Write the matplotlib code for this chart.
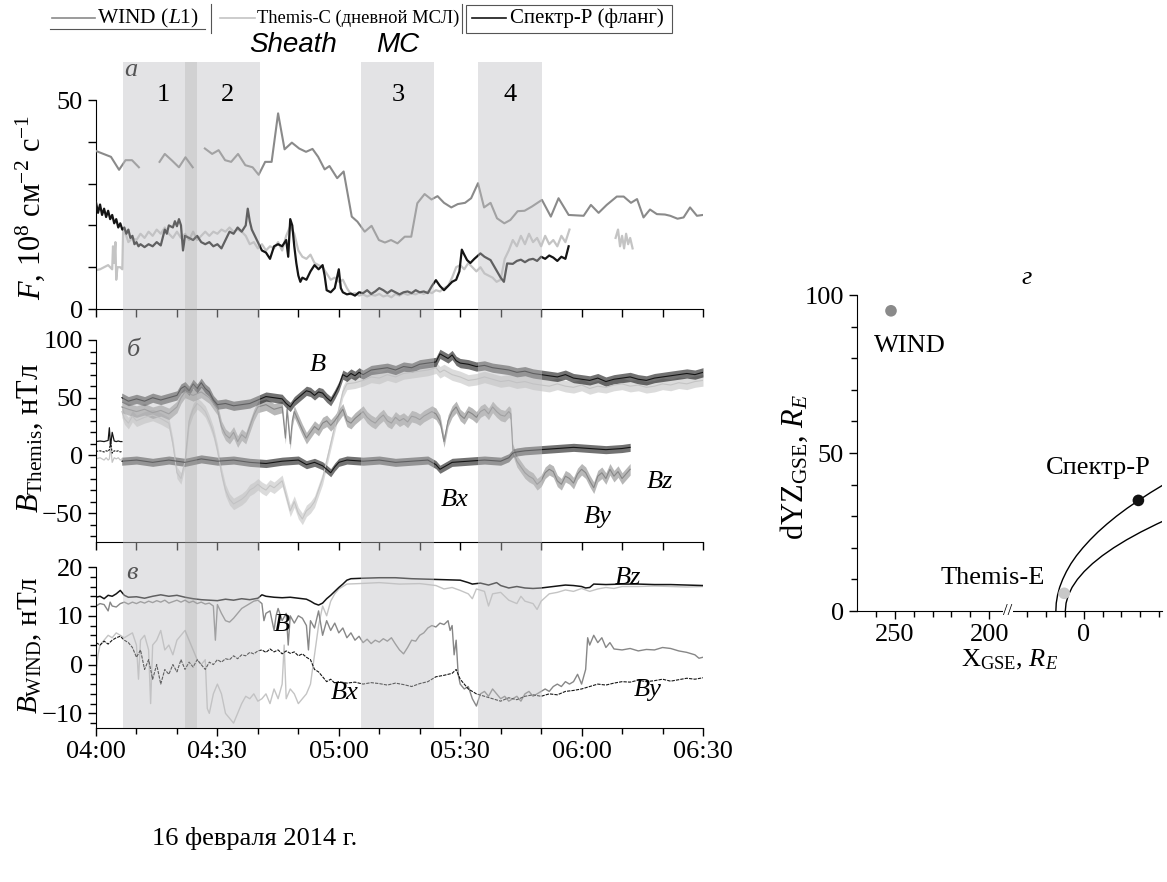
import numpy as np
import matplotlib
matplotlib.use('Agg')
import matplotlib.pyplot as plt
from matplotlib.lines import Line2D
from matplotlib.patches import Rectangle
from matplotlib.ticker import FixedLocator, MultipleLocator, NullFormatter

plt.rcParams['font.family'] = ['Liberation Serif', 'DejaVu Serif']
plt.rcParams['mathtext.fontset'] = 'custom'
plt.rcParams['mathtext.rm'] = 'Liberation Serif'
plt.rcParams['mathtext.it'] = 'Liberation Serif:italic'
plt.rcParams['mathtext.bf'] = 'Liberation Serif:bold'
plt.rcParams['axes.unicode_minus'] = True

nan = np.nan

# ---------------- time axis (minutes after 04:00) ----------------
time_ticks = [0, 30, 60, 90, 120, 150]
time_labels = ['04:00', '04:30', '05:00', '05:30', '06:00', '06:30']
bands = [(6.7, 40.5), (65.5, 83.6), (94.5, 110.2)]
strip = (22.0, 25.0)
band_names = ['1', '2', '3', '4']
band_name_t = [16.6, 32.6, 74.7, 102.3]

# ---------------- panel a: flux F ----------------
wind_t = [0, 3.7, 5.7, 7.3, 8.9, 10.6, 12.0, 15.7, 17.0, 18.8,
          20.5, 22.1, 23.9, 25.0, 26.9, 28.7, 30.3, 31.9, 33.4, 35.1,
          36.9, 38.7, 40.2, 41.8, 43.4, 45.0, 46.6, 48.4, 50.2, 51.9,
          53.5, 54.9, 56.5, 57.7, 59.6, 61.2, 63.2, 64.6, 66.4, 68.1,
          69.9, 71.4, 72.9, 74.5, 76.3, 77.9, 79.4, 81.2, 82.9, 84.4,
          86.0, 87.8, 89.4, 91.2, 92.7, 94.4, 95.9, 97.5, 99.1, 100.9,
          102.4, 104.2, 105.9, 107.7, 110.2, 112.4, 114.3, 116.8, 120.5, 122.3,
          124.2, 126.2, 128.7, 130.4, 132.2, 133.7, 135.3, 136.9, 138.6, 140.6,
          141.9, 143.7, 145.2, 146.8, 148.5, 150.0]
wind_f = [37.8, 36.4, 33.3, 35.6, 35.6, 33.9, nan, 35.2, 37.1, 35.5,
          33.9, 36.3, 33.9, nan, 38.4, 37.1, 38.0, 35.6, 35.2, 37.1,
          34.4, 33.9, 32.1, 35.2, 35.2, 46.8, 38.2, 39.8, 38.4, 37.6,
          38.3, 36.4, 33.4, 34.2, 31.3, 32.9, 22.1, 20.9, 18.5, 19.9,
          16.5, 15.9, 16.5, 15.7, 17.3, 17.3, 25.3, 27.5, 26.2, 27.0,
          25.4, 24.3, 25.1, 25.4, 26.5, 30.1, 24.3, 25.4, 21.7, 20.5,
          21.3, 23.4, 23.5, 24.5, 26.1, 22.1, 26.5, 22.5, 22.3, 24.9,
          23.0, 24.9, 26.9, 26.9, 25.4, 26.3, 21.9, 23.8, 22.7, 22.6,
          22.3, 21.6, 21.9, 24.3, 22.3, 22.5]

spr_t = [0, 0.5, 1, 1.5, 2, 2.5, 3, 3.5, 4, 4.5,
         5, 5.5, 6, 6.5, 7, 7.5, 8, 8.5, 9, 9.5,
         10, 10.5, 11, 12, 13, 14, 15, 16, 17, 17.5,
         18, 19, 19.5, 20, 20.5, 21, 21.5, 22, 23, 24,
         25, 26, 27, 28, 29, 30, 31, 32, 33, 34,
         35, 36, 37, 37.5, 38, 38.5, 39, 40, 41, 42,
         43, 44, 45, 46, 47, 47.5, 48, 48.5, 49, 49.5,
         50, 50.5, 51, 52, 53, 54, 55, 56, 56.5, 57,
         58, 59, 60, 60.5, 61, 62, 63, 64, 65, 66,
         67, 68, 69, 70, 71, 72, 73, 74, 75, 76,
         77, 78, 79, 80, 81, 82, 83, 84, 85, 86,
         87, 88, 89, 89.8, 90.4, 91, 91.7, 92.5, 93.5, 95,
         96, 97.5, 98.5, 99.1, 100, 100.8, 101.6, 103, 104, 105,
         106, 107, 108, 109, 110, 111, 112, 113, 114, 115,
         116, 116.8]
spr_f = [25.5, 23.0, 25.0, 22.5, 24.0, 22.0, 23.5, 21.5, 22.5, 20.5,
         21.5, 19.5, 20.5, 19.0, 19.5, 18.0, 19.0, 17.0, 17.5, 15.5,
         16.0, 15.0, 15.5, 14.8, 15.5, 15.0, 16.0, 15.2, 19.0, 18.0,
         20.0, 19.5, 21.0, 19.8, 21.5, 20.0, 14.0, 17.5, 17.0, 16.5,
         17.5, 16.0, 15.5, 16.0, 15.0, 15.5, 14.5, 16.5, 18.5, 18.0,
         19.5, 18.5, 20.0, 24.0, 21.0, 19.0, 18.0, 16.0, 14.0, 13.5,
         12.0, 15.0, 15.5, 15.0, 16.5, 12.5, 21.5, 20.0, 15.0, 11.0,
         8.0, 6.5, 7.5, 7.0, 9.0, 10.5, 9.5, 10.5, 8.0, 4.5,
         4.0, 5.0, 9.5, 5.0, 4.0, 3.5, 3.7, 3.2, 4.0, 3.8,
         4.5, 3.6, 4.2, 5.0, 4.5, 3.8, 4.5, 4.0, 3.5, 4.0,
         4.2, 3.8, 4.5, 4.0, 4.2, 3.8, 5.5, 6.9, 5.5, 4.5,
         5.5, 6.5, 7.0, 9.0, 14.2, 13.0, 11.7, 11.0, 12.0, 13.3,
         12.5, 11.7, 10.0, 9.0, 7.5, 6.5, 10.9, 10.8, 11.5, 11.8,
         11.2, 11.8, 12.0, 11.5, 12.5, 12.0, 12.8, 12.3, 11.5, 12.5,
         12.0, 15.0]

thc_t = [0, 1, 2, 3, 4, 4.2, 4.5, 4.8, 5, 5.3,
         6, 6.5, 6.7, 7.5, 8, 9, 10, 11, 12, 13,
         14, 15, 16, 17, 18, 19, 20, 21, 22, 23,
         24, 25, 26, 27, 28, 29, 30, 31, 32, 33,
         34, 35, 36, 37, 38, 39, 40, 41, 42, 43,
         44, 45, 46, 47, 48, 49, 50, 51, 52, 53,
         54, 55, 56, 57, 58, 59, 60, 61, 62, 63,
         64, 65, 66, 67, 68, 69, 70, 71, 72, 73,
         74, 75, 76, 77, 78, 79, 80, 81, 82, 83,
         84, 85, 86, 87, 88, 89, 90, 91, 92, 93,
         94, 95, 96, 97, 98, 99, 100, 101, 102, 103,
         104, 105, 106, 107, 108, 109, 110, 111, 112, 113,
         114, 115, 116, 117, 117.3, 128.4, 129, 129.5, 130, 130.5,
         131, 131.5, 132, 132.6]
thc_f = [9.3, 9.5, 10.0, 10.5, 9.5, 15.0, 11.0, 16.0, 7.0, 10.0,
         10.0, 9.5, 18.9, 17.5, 16.0, 17.0, 16.5, 18.0, 17.0, 18.5,
         17.5, 19.0, 18.0, 19.5, 18.0, 17.0, 18.5, 17.0, 18.0, 16.5,
         18.5, 16.5, 17.5, 18.5, 17.5, 18.5, 18.0, 19.0, 18.5, 19.5,
         18.5, 19.0, 18.5, 17.5, 15.5, 16.0, 14.5, 15.5, 14.0, 15.0,
         14.5, 16.0, 14.0, 17.5, 19.8, 18.0, 14.0, 12.5, 12.0, 13.0,
         11.0, 10.5, 10.0, 8.5, 7.0, 7.5, 6.5, 7.0, 5.0, 3.5,
         3.8, 3.2, 3.5, 3.0, 3.4, 3.2, 3.6, 3.0, 3.3, 2.8,
         3.6, 3.2, 3.8, 3.4, 3.7, 3.5, 4.0, 3.6, 4.2, 3.8,
         4.5, 4.2, 5.0, 5.5, 7.5, 10.0, 10.5, 9.5, 11.0, 10.0,
         9.0, 10.0, 8.5, 8.0, 7.5, 6.5, 7.0, 12.0, 14.0, 16.5,
         15.0, 17.5, 15.5, 18.0, 16.0, 17.0, 15.0, 17.5, 15.5, 16.5,
         15.0, 17.5, 16.0, 19.0, nan, 17.0, 19.0, 15.0, 17.5, 14.5,
         18.0, 15.5, 17.0, 14.5]

# ---------------- panel b: B at Themis ----------------
thp_t = [0, 1, 2, 2.5, 3, 3.3, 3.6, 4, 4.5, 5, 5.5, 6, 6.4]
thp_B = [12, 12.5, 12, 12.5, 13, 24, 8, 20, 12.5, 12, 12.5, 12, 12]
thp_Bx = [3.5, 4, 3, 4, 3.5, 5, 12, 2, 4, 3.5, 4, 3, 3.5]
thp_By = [-3, -2, -4, -2, -4, -3, 8, -6, -2, -3, -2, -4, -3]

thB_t = [6.4, 8, 10, 12, 14, 16, 18, 20,
         21, 22, 23, 24, 25, 26, 27, 28, 29, 30,
         32, 34, 36, 38, 40, 42, 44, 46,
         47, 48, 49, 50, 51, 52, 53, 54, 55, 56,
         57, 58, 59, 60, 61, 62, 63, 64, 65, 66,
         68, 70, 72, 74, 76, 78, 80, 82, 84,
         85, 86, 87, 88, 89, 90,
         92, 94, 96, 98, 100, 102, 104, 106, 108, 110,
         112, 114, 116, 118, 120, 122, 124, 126, 128, 130,
         132, 134, 136, 138, 140, 142, 144, 146, 148, 150]
thB_v = [50, 47, 49, 47, 50, 48, 50, 52,
         58, 60, 56, 62, 58, 63, 58, 55, 48, 44,
         45, 43, 44, 45, 48, 51, 50, 49,
         45, 42, 47, 50, 53, 56, 55, 52, 55, 54,
         50, 47, 53, 60, 70, 68, 71, 69, 72, 70,
         74, 75, 76, 74, 77, 76, 79, 80, 81,
         88, 86, 84, 87, 82, 80,
         79, 77, 78, 76, 75, 74, 72, 73, 71, 70,
         69, 68, 70, 67, 66, 65, 67, 64, 66, 67,
         68, 66, 65, 67, 68, 69, 70, 71, 70, 72]

thBz_t = [6.4, 7, 8, 9, 10, 12, 14, 16, 18, 19,
          20, 21, 22, 23, 24, 25, 26, 27, 28, 29,
          30, 31, 32, 33, 34, 35, 36, 37, 38, 39,
          40, 41, 42, 43, 44, 45, 46, 47, 48, 49,
          50, 51, 52, 53, 54, 55, 56, 57, 58, 59,
          60, 61, 62, 64, 66, 68, 70, 72, 74, 76,
          78, 80, 82, 84, 85, 86, 88, 90, 92, 94,
          96, 98, 100, 102, 104, 106, 108, 110, 112, 114,
          116, 118, 120, 122, 124, 126, 128, 130, 132, 134,
          136, 138, 140, 142, 144, 146, 148, 150]
thBz_v = [38, 32, 28, 34, 30, 33, 35, 32, 28, 10,
          -15, -20, -5, 30, 40, 45, 42, 38, 30, 20,
          5, -15, -30, -38, -42, -40, -38, -35, -30, -28,
          -25, -28, -30, -26, -28, -25, -22, -35, -48, -40,
          -50, -55, -48, -45, -40, -30, -20, -5, 10, 25,
          40, 55, 62, 63, 65, 68, 67, 70, 68, 71,
          72, 73, 74, 76, 72, 74, 70, 68, 65, 66,
          68, 66, 64, 65, 63, 64, 62, 61, 60, 62,
          60, 59, 61, 58, 60, 59, 61, 62, 60, 61,
          59, 60, 62, 61, 63, 62, 64, 65]

thBy_t = [6.4, 8, 10, 12, 14, 16, 18, 20, 21, 22,
          24, 26, 28, 29, 30, 31, 32, 33, 34, 35,
          36, 37, 38, 39, 40, 42, 44, 46, 46.8, 47.2,
          48, 48.5, 49, 50, 51, 52, 53, 54, 55, 56,
          57, 58, 59, 60, 61, 62, 63, 64, 65, 66,
          67, 68, 69, 70, 71, 72, 73, 74, 75, 76,
          77, 78, 79, 80, 81, 82, 83, 84, 85, 86,
          87, 88, 89, 90, 91, 92, 93, 94, 95, 96,
          97, 98, 99, 100, 101, 102, 102.5, 103, 104, 105,
          106, 107, 108, 109, 110, 111, 112, 113, 114, 115,
          116, 117, 118, 119, 120, 121, 122, 123, 124, 125,
          126, 127, 128, 129, 130, 131, 132]
thBy_v = [42, 40, 38, 40, 37, 39, 36, 42, 50, 55,
          52, 55, 50, 45, 40, 25, 18, 15, 20, 12,
          18, 15, 25, 35, 42, 44, 40, 42, 15, 40,
          10, 30, 38, 30, 22, 15, 20, 25, 22, 28,
          30, 26, 30, 35, 40, 30, 28, 32, 35, 38,
          33, 30, 28, 32, 35, 30, 28, 33, 30, 32,
          29, 34, 33, 31, 34, 36, 38, 36, 30, 12,
          30, 38, 42, 35, 32, 38, 36, 33, 38, 40,
          36, 42, 38, 35, 34, 38, 36, 5, -5, -10,
          -15, -18, -20, -25, -22, -15, -12, -14, -22, -25,
          -18, -20, -24, -16, -12, -15, -22, -28, -18, -15,
          -20, -12, -18, -14, -20, -16, -12]

thBx_t = [6.4, 10, 14, 18, 22, 26, 30, 34, 38, 42,
          46, 50, 52, 54, 56, 57, 58, 59, 60, 62,
          66, 70, 74, 78, 82, 84, 85, 86, 87, 88,
          92, 96, 100, 102, 103, 104, 106, 110, 114, 118,
          122, 126, 130, 132]
thBx_v = [-5, -4, -6, -4, -6, -3, -5, -4, -6, -7,
          -5, -4, -8, -6, -9, -12, -15, -10, -6, -4,
          -5, -4, -6, -5, -4, -8, -12, -10, -8, -6,
          -5, -4, -5, -2, 2, 3, 4, 5, 6, 7,
          6, 5, 6, 7]

# ---------------- panel c: B at WIND ----------------
wB_t = [0, 1, 2, 3, 4, 5, 6, 7, 8, 10,
        12, 14, 16, 18, 20, 22, 24, 26, 28, 30,
        32, 34, 36, 38, 40, 41, 42, 44, 46, 48,
        50, 52, 53, 54, 55, 56, 57, 58, 59, 60,
        61, 62, 63, 66, 70, 74, 78, 82, 86, 90,
        92, 93, 95, 97, 99, 100, 102, 104, 106, 108,
        110, 112, 114, 116, 118, 120, 121, 122, 123, 126,
        130, 134, 138, 142, 146, 150]
wB_v = [13.8, 14.0, 13.5, 14.2, 14.0, 14.5, 15.2, 14.2, 13.8, 13.9,
        13.6, 14.0, 14.3, 14.0, 14.2, 13.8, 13.5, 13.3, 13.2, 13.1,
        13.4, 13.2, 13.5, 13.3, 13.6, 14.3, 14.0, 13.8, 13.7, 13.8,
        13.6, 13.4, 13.0, 12.5, 12.2, 12.6, 13.5, 14.2, 15.0, 15.8,
        16.5, 17.3, 17.6, 17.7, 17.8, 17.8, 17.6, 17.5, 17.4, 17.3,
        16.8, 16.5, 16.7, 16.3, 16.8, 16.2, 15.7, 16.0, 15.7, 15.6,
        15.7, 15.9, 16.1, 16.3, 16.2, 16.0, 15.7, 15.8, 16.5, 16.4,
        16.5, 16.5, 16.4, 16.4, 16.3, 16.2]

wBz_t = [0, 0.5, 1, 2, 3, 4, 5, 6, 7, 8,
         9, 10, 10.5, 11, 12, 13, 13.5, 14, 15, 16,
         17, 18, 19, 20, 21, 22, 23, 24, 25, 26,
         27, 27.5, 28, 29, 30, 31, 32, 33, 34, 35,
         36, 37, 38, 39, 40, 41, 42, 43, 44, 45,
         46, 46.5, 47, 48, 49, 50, 51, 52, 53, 54,
         55, 56, 57, 58, 59, 60, 61, 62, 65, 70,
         75, 80, 84, 86, 88, 90, 92, 93, 94, 96,
         97, 98, 100, 102, 104, 105, 106, 108, 109, 110,
         112, 114, 116, 118, 120, 122, 124, 126, 128, 130,
         134, 138, 142, 146, 150]
wBz_v = [-2, 2, 4, 5, 6, 5.5, 6.5, 6, 5.5, 6,
         6.5, 4, -3, 5, 6, 3, -8, 4, 5, 7,
         3, 4, 2, 5, 6, 7, 5, 3, 1, 0,
         1, -9, -10, -6, -4, -6, -10, -11, -12, -10,
         -8, -6.5, -7, -6, -7.5, -7, -6, -8, -5, -7,
         -4, 4, -7, -5, -6, -8, -7, -6, -4, 2,
         8, 12, 10, 13, 14.5, 15.5, 16, 16.5, 16.6, 16.8,
         16.5, 16.6, 16.2, 15.5, 15.8, 15.2, 14.5, 13.5, 15.5, 15,
         12, 14.5, 14.8, 13.2, 12.5, 14, 13, 12.5, 11.3, 13,
         14.5, 14.8, 15.3, 15, 15.6, 15, 15.5, 15.8, 15.6, 16,
         16, 16.1, 16, 15.9, 16]

wBy_t = [0, 1, 2, 3, 3.5, 4, 5, 6, 7, 8,
         9, 10, 11, 12, 13, 14, 15, 16, 17, 18,
         19, 20, 21, 22, 23, 24, 25, 26, 27, 28,
         29, 29.5, 30, 31, 32, 33, 34, 35, 36, 37,
         38, 39, 40, 41, 41.5, 42, 43, 44, 44.5, 45,
         46, 47, 47.5, 48, 49, 50, 51, 52, 52.5, 53,
         54, 55, 56, 57, 58, 59, 60, 61, 62, 63,
         64, 65, 66, 67, 68, 69, 70, 71, 72, 73,
         74, 75, 76, 77, 78, 79, 80, 81, 82, 83,
         84, 85, 86, 87, 87.5, 88, 88.5, 89, 89.5, 90,
         91, 92, 93, 94, 95, 96, 97, 98, 99, 100,
         101, 102, 103, 104, 105, 106, 107, 108, 109, 110,
         111, 112, 113, 114, 115, 116, 117, 118, 119, 120,
         121, 121.5, 122, 123, 124, 125, 126, 127, 128, 130,
         132, 134, 136, 138, 140, 142, 144, 146, 148, 149,
         150]
wBy_v = [12, 12.5, 12.3, 11, 12.8, 12, 11.8, 12.5, 12.8, 12.4,
         12.8, 12.5, 12.9, 12.6, 13, 12.7, 13.1, 12.8, 13.2, 12.6,
         12.9, 13.2, 12.8, 13.2, 12.7, 13, 12.5, 12.8, 12.4, 12.6,
         12, 5, 12.3, 10.5, 9, 8.7, 9.5, 10.5, 11.5, 12,
         12.5, 13, 13.2, 12.5, 9, 10.5, 11, 7, 10, 11.5,
         9, 10.5, 4, 10, 8.5, 10, 9.5, 8, 3, 9,
         7.5, 11, 6, 9, 7, 8.5, 6.5, 7.5, 5.5, 6.5,
         5, 5.8, 4.5, 5.2, 4.3, 5, 4.6, 5.3, 4.8, 5.5,
         4.2, 3, 2.2, 3.5, 5, 4.8, 6, 6.5, 7.5, 8,
         7.7, 8.5, 8.2, 9, 7, 8, 2, 5, -2, -4,
         -5, -4.5, -7, -8.5, -6, -5.5, -6.5, -5, -6, -7,
         -6.5, -7.5, -7, -6.5, -7.5, -6, -5.5, -6.5, -6, -5.5,
         -5, -5.5, -4.5, -4, -4.5, -3.5, -4, -3.5, -2, -4,
         -1, 5.5, 4, 6, 4.5, 5.5, 3.5, 4.5, 3.2, 3,
         3.3, 2.8, 3.1, 3, 3.5, 3.3, 2.8, 2.5, 2, 1.3,
         1.5]

wBx_t = [0, 1, 2, 3, 4, 5, 6, 7, 8, 9,
         10, 11, 12, 13, 14, 15, 16, 17, 18, 19,
         20, 21, 22, 23, 24, 25, 26, 27, 28, 29,
         30, 31, 32, 33, 34, 35, 36, 37, 38, 39,
         40, 41, 42, 43, 44, 45, 46, 47, 48, 49,
         50, 51, 52, 53, 54, 55, 56, 57, 58, 59,
         60, 62, 64, 66, 68, 70, 72, 74, 76, 78,
         80, 82, 84, 86, 88, 89, 90, 91, 92, 94,
         96, 98, 100, 102, 104, 106, 108, 110, 112, 114,
         116, 118, 120, 122, 124, 126, 128, 130, 132, 134,
         136, 138, 140, 142, 144, 146, 148, 150]
wBx_v = [4.5, 4, 4.8, 4.2, 5, 5.5, 5.8, 5, 4.5, 3.5,
         1.5, 3, -1, 1, -3, 0, -4, -1, -2, 0,
         -1.5, 1, -1, 0.5, -0.5, 1, 0, -1, 0.5, 0,
         1, 0.5, 1.2, 1, 1.8, 1.2, 2, 1.8, 2.5, 2.2,
         2.8, 3, 2.5, 3.2, 2.6, 3, 2.2, 2.8, 2.3, 2.6,
         1.8, 2.2, 1.5, 1, -1, -1.5, -2.5, -3.5, -3, -3.8,
         -3.5, -3.8, -3.6, -4, -3.7, -3.9, -4.2, -3.8, -4.1, -4.5,
         -3.9, -3.5, -2.5, -2.2, -1.8, -1, -3, -4, -5, -6,
         -6.5, -7, -7.5, -6.8, -7.2, -6.5, -6.2, -6.5, -6, -6.2,
         -5.5, -5.3, -5, -4.5, -4, -4.2, -3.8, -3.5, -3.6, -3.2,
         -3.5, -3.3, -3, -3.4, -3.1, -2.8, -3, -2.7]

# ---------------- panel d: positions (GSE) ----------------
sc_names = ['WIND', 'Спектр-Р', 'Themis-E']
sc_x = [252, -29, 10.3]
sc_y = [95, 35, 5.6]
outer_y = [0, 2.5, 5, 7.5, 10, 12.5, 15, 17.5, 20, 22.5, 25, 27.5, 30, 32.5, 35, 37.5, 40]
outer_x = [14.7, 14.5, 13.8, 12.7, 11.1, 9.1, 6.7, 3.8, 0.4, -3.4, -7.6, -12.3, -17.4, -23.0, -29.1, -35.5, -42.4]
inner_y = [0, 2.5, 5, 7.5, 10, 12.5, 15, 17.5, 20, 22.5, 25, 27.5, 28.5]
inner_x = [9.7, 9.3, 8.1, 6.1, 3.3, -0.3, -4.7, -9.9, -15.9, -22.7, -30.3, -38.7, -42.3]

# ---------------- styles ----------------
C_BLACK = '#151515'
C_MID = '#878787'
C_LIGHT = '#c4c4c4'
C_WIND = '#8a8a8a'
FS = 19
LFS = 22

W, H = 1167, 882
fig = plt.figure(figsize=(W / 100, H / 100), dpi=100)


def box(l, t, r, b):
    return [l / W, 1 - b / H, (r - l) / W, (b - t) / H]


def fx(x):
    return x / W


def fy(y):
    return 1 - y / H


def style_time_axis(ax):
    for s in ('top', 'right'):
        ax.spines[s].set_visible(False)
    ax.set_xlim(0, 150)
    ax.xaxis.set_major_locator(MultipleLocator(10))
    ax.tick_params(axis='both', which='both', direction='out', width=1,
                   labelsize=FS)
    ax.tick_params(axis='both', which='major', length=6)
    ax.tick_params(axis='both', which='minor', length=4)
    ax.patch.set_alpha(0)


# panel a
ax_a = fig.add_axes(box(96, 100, 703, 309))
style_time_axis(ax_a)
ax_a.set_ylim(0, 50)
ax_a.set_yticks([0, 50])
ax_a.yaxis.set_minor_locator(FixedLocator([10, 20, 30, 40]))
ax_a.tick_params(axis='y', which='minor', length=6)
ax_a.set_xticklabels([])
ax_a.plot(thc_t, thc_f, color=C_LIGHT, lw=1.6, zorder=2)
ax_a.plot(spr_t, spr_f, color=C_BLACK, lw=1.6, zorder=3)
ax_a.plot(wind_t, wind_f, color=C_WIND, lw=1.5, zorder=4)

# panel b
ax_b = fig.add_axes(box(96, 340, 703, 542))
style_time_axis(ax_b)
ax_b.set_ylim(-75, 100)
ax_b.set_yticks([-50, 0, 50, 100])
ax_b.yaxis.set_minor_locator(MultipleLocator(10))
ax_b.set_xticklabels([])
ax_b.plot(thp_t, thp_By, color=C_LIGHT, lw=0.9)
ax_b.plot(thp_t, thp_Bx, color=C_BLACK, lw=0.8, ls=(0, (2, 1)))
ax_b.plot(thp_t, thp_B, color=C_BLACK, lw=0.9)
for t, v, c, hw in [(thBz_t, thBz_v, C_LIGHT, 5),
                    (thBy_t, thBy_v, C_MID, 5),
                    (thBx_t, thBx_v, C_BLACK, 3.5),
                    (thB_t, thB_v, C_BLACK, 4)]:
    v = np.asarray(v, float)
    ax_b.fill_between(t, v - hw, v + hw, color=c, lw=0, alpha=0.6)
    ax_b.plot(t, v, color=c, lw=0.8)

# panel c
ax_c = fig.add_axes(box(96, 567, 703, 728))
style_time_axis(ax_c)
ax_c.set_ylim(-13, 20)
ax_c.set_yticks([-10, 0, 10, 20])
ax_c.yaxis.set_minor_locator(MultipleLocator(2))
ax_c.set_xticks(time_ticks)
ax_c.set_xticklabels(time_labels)
ax_c.xaxis.set_minor_locator(MultipleLocator(10))
ax_c.plot(wBz_t, wBz_v, color=C_LIGHT, lw=1.0)
ax_c.plot(wBy_t, wBy_v, color=C_MID, lw=1.0)
ax_c.plot(wBx_t, wBx_v, color=C_BLACK, lw=0.8, ls=(0, (3, 1)))
ax_c.plot(wB_t, wB_v, color=C_BLACK, lw=1.1)

# shaded intervals on top of all time panels
ax_o = fig.add_axes(box(96, 62, 703, 728), zorder=5)
ax_o.set_xlim(0, 150)
ax_o.set_ylim(0, 1)
ax_o.axis('off')
for s, e in bands:
    ax_o.axvspan(s, e, color='#c1c1c4', alpha=0.44, lw=0)
ax_o.axvspan(strip[0], strip[1], color='#9c9c9c', alpha=0.25, lw=0)
for name, t in zip(band_names, band_name_t):
    ax_o.text(t, (728 - 95) / 666, name, ha='center', va='center', fontsize=FS)


# panel d: broken X axis (270..190 | 40..-41.5) via a monotonic function scale
def fwd(x):
    x = np.asarray(x, float)
    return np.where(x >= 115, x - 270, x - 120)


def inv(s):
    s = np.asarray(s, float)
    return np.where(s >= -80, s + 270, s + 120)


ax_d = fig.add_axes(box(857, 295, 1162, 611))
ax_d.set_xscale('function', functions=(fwd, inv))
ax_d.set_xlim(270, -41.5)
ax_d.set_ylim(0, 100)
for s in ('top', 'right'):
    ax_d.spines[s].set_visible(False)
ax_d.set_xticks([250, 200, 0], labels=['250', '200', '0'])
ax_d.xaxis.set_minor_locator(FixedLocator([260, 240, 230, 220, 210,
                                           30, 20, 10, -10, -20, -30, -40]))
ax_d.xaxis.set_minor_formatter(NullFormatter())
ax_d.set_yticks([0, 50, 100])
ax_d.yaxis.set_minor_locator(FixedLocator([10, 20, 30, 40, 60, 70, 80, 90]))
ax_d.tick_params(axis='both', which='both', direction='out', width=1, labelsize=FS)
ax_d.tick_params(axis='both', which='major', length=6)
ax_d.tick_params(axis='both', which='minor', length=4)
ax_d.plot(outer_x, outer_y, color='black', lw=1.0)
ax_d.plot(inner_x, inner_y, color='black', lw=1.0)
ax_d.scatter(sc_x, sc_y, s=70, c=['#8a8a8a', '#111111', '#c8c8c8'], zorder=5,
             edgecolors='none')
ax_d.text(190, 0, '//', transform=ax_d.get_xaxis_transform(), ha='center',
          va='center', fontsize=12,
          bbox=dict(facecolor='white', edgecolor='none', pad=0.5))
ax_d.text(242, 84, sc_names[0], ha='center', va='center', fontsize=FS)
ax_d.text(-8, 45.3, sc_names[1], ha='center', va='center', fontsize=FS)
ax_d.text(198, 10.4, sc_names[2], ha='center', va='center', fontsize=FS)

# axis labels and annotations
fig.text(fx(30), fy(207), r'$F$, 10$^{8}$ см$^{-2}$ с$^{-1}$', rotation=90,
         ha='center', va='center', fontsize=LFS)
fig.text(fx(30), fy(438), r'$B_{\rm Themis}$, нТл', rotation=90,
         ha='center', va='center', fontsize=LFS)
fig.text(fx(30), fy(645), r'$B_{\rm WIND}$, нТл', rotation=90,
         ha='center', va='center', fontsize=21)
fig.text(fx(255), fy(838), '16 февраля 2014 г.', ha='center', va='center',
         fontsize=FS)
fig.text(fx(794), fy(467), r'dYZ$_{\rm GSE}$, $R_E$', rotation=90,
         ha='center', va='center', fontsize=LFS)
fig.text(fx(1010), fy(660), r'X$_{\rm GSE}$, $R_E$', ha='center', va='center',
         fontsize=FS)

for txt, x, y in [('а', 131, 70), ('б', 133, 350), ('в', 132, 573), ('г', 1027, 278)]:
    fig.text(fx(x), fy(y), txt, ha='center', va='center', fontsize=FS,
             style='italic')

for txt, x, y in [('B', 318, 365), ('Bx', 455, 500), ('By', 598, 517), ('Bz', 660, 482),
                  ('B', 282, 625), ('Bz', 628, 578), ('By', 648, 690), ('Bx', 345, 693)]:
    fig.text(fx(x), fy(y), txt, ha='center', va='center', fontsize=FS,
             style='italic', zorder=6)

fig.text(fx(293), fy(45), 'Sheath', ha='center', va='center', fontsize=20,
         family='Liberation Sans', style='italic')
fig.text(fx(398), fy(45), 'MC', ha='center', va='center', fontsize=20,
         family='Liberation Sans', style='italic')

# legend strip
fig.add_artist(Line2D([fx(52), fx(95)], [fy(18), fy(18)], color=C_WIND, lw=1.2))
fig.text(fx(97), fy(18), r'WIND ($L1$)', ha='left', va='center', fontsize=15.5)
fig.add_artist(Line2D([fx(50), fx(205)], [fy(29), fy(29)], color='#555555', lw=0.8))
fig.add_artist(Line2D([fx(211), fx(211)], [fy(4), fy(33)], color='#555555', lw=0.8))
fig.add_artist(Line2D([fx(220), fx(255)], [fy(18), fy(18)], color=C_LIGHT, lw=1.2))
fig.text(fx(257), fy(18), 'Themis-C (дневной МСЛ)', ha='left', va='center',
         fontsize=13.3)
fig.add_artist(Line2D([fx(462), fx(462)], [fy(4), fy(33)], color='#555555', lw=0.8))
fig.add_artist(Rectangle((fx(466), fy(33)), fx(672) - fx(466), fy(5) - fy(33),
                         transform=fig.transFigure, fill=False,
                         edgecolor='#555555', lw=0.8))
fig.add_artist(Line2D([fx(472), fx(506)], [fy(18), fy(18)], color=C_BLACK, lw=1.2))
fig.text(fx(510), fy(18), 'Спектр-Р (фланг)', ha='left', va='center', fontsize=15)

fig.savefig('out.png', dpi=100)
